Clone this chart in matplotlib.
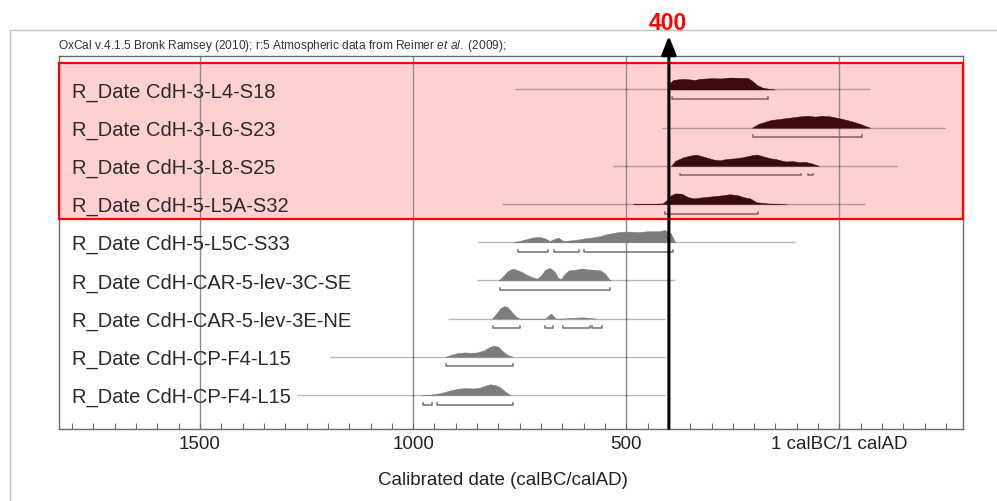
import numpy as np
import matplotlib
matplotlib.use("Agg")
import matplotlib.pyplot as plt
import matplotlib.transforms as mtrans
from matplotlib.patches import Rectangle
from matplotlib.lines import Line2D
from matplotlib.ticker import FixedLocator, MultipleLocator

plt.rcParams["font.family"] = ["Liberation Sans", "DejaVu Sans"]
plt.rcParams["mathtext.fontset"] = "custom"
plt.rcParams["mathtext.rm"] = "Liberation Sans"
plt.rcParams["mathtext.it"] = "Liberation Sans:italic"

# ---- data (years: negative = BC, 0 = 1 calBC/1 calAD) ----
labels = [
    "R_Date CdH-3-L4-S18",
    "R_Date CdH-3-L6-S23",
    "R_Date CdH-3-L8-S25",
    "R_Date CdH-5-L5A-S32",
    "R_Date CdH-5-L5C-S33",
    "R_Date CdH-CAR-5-lev-3C-SE",
    "R_Date CdH-CAR-5-lev-3E-NE",
    "R_Date CdH-CP-F4-L15",
    "R_Date CdH-CP-F4-L15",
]

s18_yr = [-400, -397, -390, -380, -365, -350, -339, -327, -300, -280, -257, -235, -215, -205, -193, -180, -165, -151]
s18_p = [0, 0.55, 0.75, 0.8, 0.85, 0.8, 0.76, 0.85, 0.9, 0.88, 0.95, 0.93, 0.92, 0.7, 0.35, 0.15, 0.05, 0]
s18_span = [-760, 72]
s18_hpd = [[-392, -167]]

s23_yr = [-205, -190, -162, -140, -115, -92, -75, -57, -40, -22, 0, 19, 35, 49, 60, 72]
s23_p = [0, 0.3, 0.6, 0.7, 0.8, 0.9, 0.95, 0.88, 0.95, 0.9, 0.75, 0.6, 0.45, 0.3, 0.15, 0]
s23_span = [-416, 248]
s23_hpd = [[-202, 54]]

s25_yr = [-395, -385, -365, -345, -334, -315, -295, -280, -265, -245, -225, -205, -193, -178, -162,
          -150, -139, -125, -110, -95, -80, -65, -55, -48]
s25_p = [0, 0.4, 0.7, 0.85, 0.88, 0.7, 0.5, 0.45, 0.55, 0.6, 0.7, 0.85, 0.9, 0.75, 0.6,
         0.55, 0.45, 0.35, 0.38, 0.3, 0.32, 0.2, 0.08, 0]
s25_span = [-530, 135]
s25_hpd = [[-373, -89], [-73, -61]]

s32_yr = [-484, -440, -415, -404, -395, -385, -370, -355, -340, -320, -296, -275, -257, -240, -225,
          -209, -195, -170, -123]
s32_p = [0, 0.02, 0.05, 0.35, 0.7, 0.85, 0.82, 0.55, 0.45, 0.55, 0.62, 0.7, 0.78, 0.72, 0.55,
         0.45, 0.15, 0.05, 0]
s32_span = [-791, 61]
s32_hpd = [[-408, -192]]

s33_yr = [-766, -745, -720, -702, -690, -679, -670, -660, -650, -643, -620, -600, -580, -560, -545,
          -520, -500, -470, -450, -425, -409, -395, -385]
s33_p = [0, 0.15, 0.38, 0.42, 0.3, 0.1, 0.25, 0.38, 0.15, 0.12, 0.18, 0.3, 0.38, 0.5, 0.65,
         0.8, 0.85, 0.82, 0.87, 0.88, 0.97, 0.7, 0]
s33_span = [-848, -104]
s33_hpd = [[-754, -684], [-670, -610], [-598, -390]]

se_yr = [-800, -790, -778, -766, -750, -733, -720, -709, -700, -690, -679, -668, -660, -653, -645,
         -635, -620, -603, -590, -575, -560, -550, -540, -535]
se_p = [0, 0.3, 0.75, 0.95, 0.75, 0.45, 0.25, 0.15, 0.4, 0.85, 1.0, 0.7, 0.2, 0.12, 0.5,
        0.8, 0.85, 0.95, 0.88, 0.85, 0.8, 0.55, 0.1, 0]
se_span = [-850, -385]
se_hpd = [[-796, -538]]

ne_yr = [-815, -805, -795, -786, -778, -768, -758, -750, -690, -682, -677, -672, -665,
         -655, -640, -620, -600, -585, -570]
ne_p = [0, 0.4, 0.85, 1.0, 0.9, 0.5, 0.15, 0, 0, 0.25, 0.4, 0.25, 0,
        0, 0.03, 0.08, 0.1, 0.05, 0]
ne_span = [-918, -409]
ne_hpd = [[-812, -749], [-690, -672], [-648, -585], [-580, -557]]

f4a_yr = [-925, -912, -895, -880, -865, -850, -835, -822, -812, -800, -790, -778, -766]
f4a_p = [0, 0.15, 0.3, 0.35, 0.32, 0.35, 0.5, 0.75, 0.9, 0.8, 0.45, 0.15, 0]
f4a_span = [-1195, -409]
f4a_hpd = [[-922, -766]]

f4b_yr = [-980, -960, -935, -915, -895, -878, -860, -845, -830, -820, -808, -795, -785, -772]
f4b_p = [0, 0.03, 0.15, 0.35, 0.5, 0.55, 0.52, 0.58, 0.75, 0.85, 0.8, 0.6, 0.3, 0]
f4b_span = [-1272, -409]
f4b_hpd = [[-977, -956], [-944, -766]]

marker_year = -400
marker_text = "400"

major_ticks = [-1500, -1000, -500, 0]
major_labels = ["1500", "1000", "500", "1 calBC/1 calAD"]

rows = [
    (s18_yr, s18_p, s18_span, s18_hpd),
    (s23_yr, s23_p, s23_span, s23_hpd),
    (s25_yr, s25_p, s25_span, s25_hpd),
    (s32_yr, s32_p, s32_span, s32_hpd),
    (s33_yr, s33_p, s33_span, s33_hpd),
    (se_yr, se_p, se_span, se_hpd),
    (ne_yr, ne_p, ne_span, ne_hpd),
    (f4a_yr, f4a_p, f4a_span, f4a_hpd),
    (f4b_yr, f4b_p, f4b_span, f4b_hpd),
]
highlighted = 4  # first rows drawn in the shaded block

# ---- figure ----
W, H = 997, 502
fig = plt.figure(figsize=(W / 100, H / 100), dpi=100)
ax_l, ax_r, ax_t, ax_b = 58.5, 963.0, 57.0, 429.5
ax = fig.add_axes([ax_l / W, 1 - ax_b / H, (ax_r - ax_l) / W, (ax_b - ax_t) / H])
ax.set_xlim(-1832, 290)
ax.set_ylim(8.877, -0.877)

# outer page frame
frame_c = "#c4c4c4"
fig.add_artist(Line2D([10 / W, 10 / W], [0, 1 - 31 / H], transform=fig.transFigure, color=frame_c, lw=1))
fig.add_artist(Line2D([10 / W, 1], [1 - 31 / H, 1 - 31 / H], transform=fig.transFigure, color=frame_c, lw=1))

blend = mtrans.blended_transform_factory(ax.transAxes, ax.transData)

# shaded block behind the first rows
ax.add_patch(Rectangle((0, -0.694), 1, 3.391 + 0.694, transform=blend,
                       facecolor="#ffd0d0", edgecolor="none", zorder=0.5))
ax.add_patch(Rectangle((0, -0.694), 0.9995, 3.391 + 0.694, transform=blend,
                       facecolor="none", edgecolor="#ff0000", lw=1.6, zorder=6, clip_on=False))

# vertical grid at the major ticks
for t in major_ticks:
    ax.axvline(t, color="#8a8a8a", lw=1, zorder=1)

PEAK = 0.33
BR_OFF = 0.25
BR_TICK = 0.05
for i, (yr, p, span, hpd) in enumerate(rows):
    hot = i < highlighted
    fill_c = "#3d0b0b" if hot else "#7d7d7d"
    br_c = "#8a5a5a" if hot else "#707070"
    ax.plot(span, [i, i], color="k", alpha=0.28, lw=1, zorder=2, solid_capstyle="butt")
    ax.fill_between(yr, i, i - PEAK * np.asarray(p), color=fill_c, lw=0.3, zorder=3)
    for a, b in hpd:
        yb = i + BR_OFF
        ax.plot([a, a, b, b], [yb - BR_TICK, yb, yb, yb - BR_TICK], color=br_c, lw=1.1, zorder=3)
    ax.text(0.0149, i + 0.18, labels[i], transform=blend, fontsize=14.5, color="#2a2a2a",
            ha="left", va="baseline", zorder=4)

# axes styling
for s in ax.spines.values():
    s.set_color("#6a6a6a")
    s.set_linewidth(1)
ax.set_yticks([])
ax.xaxis.set_major_locator(FixedLocator(major_ticks))
ax.set_xticklabels(major_labels)
ax.xaxis.set_minor_locator(MultipleLocator(50))
ax.tick_params(axis="x", which="both", direction="in", length=4.5, width=0.8, color="#6a6a6a")
ax.tick_params(axis="x", which="major", labelsize=13.5, labelcolor="#222222", pad=5)

fig.text(503 / W, 1 - 481 / H, "Calibrated date (calBC/calAD)", fontsize=13.5, color="#222222",
         ha="center", va="center")

fig.text(58 / W, 1 - 49.5 / H,
         r"OxCal v.4.1.5 Bronk Ramsey (2010); r:5 Atmospheric data from Reimer $\mathit{et\ al.}$ (2009);",
         fontsize=8.6, color="#333333", ha="left", va="baseline")

# marker arrow at 400 BC
y_tip = (37 - 90.5) / 38.19
ax.annotate("", xy=(marker_year, y_tip), xytext=(marker_year, 8.877),
            arrowprops=dict(arrowstyle="-|>,head_length=1.25,head_width=0.5", color="k", lw=2.2,
                            mutation_scale=9, shrinkA=0, shrinkB=0),
            annotation_clip=False, zorder=7)
fig.text(668 / W, 1 - 23 / H, marker_text, fontsize=16.5, fontweight="bold", color="#ff0000",
         ha="center", va="center")

fig.savefig("out.png", dpi=100)
